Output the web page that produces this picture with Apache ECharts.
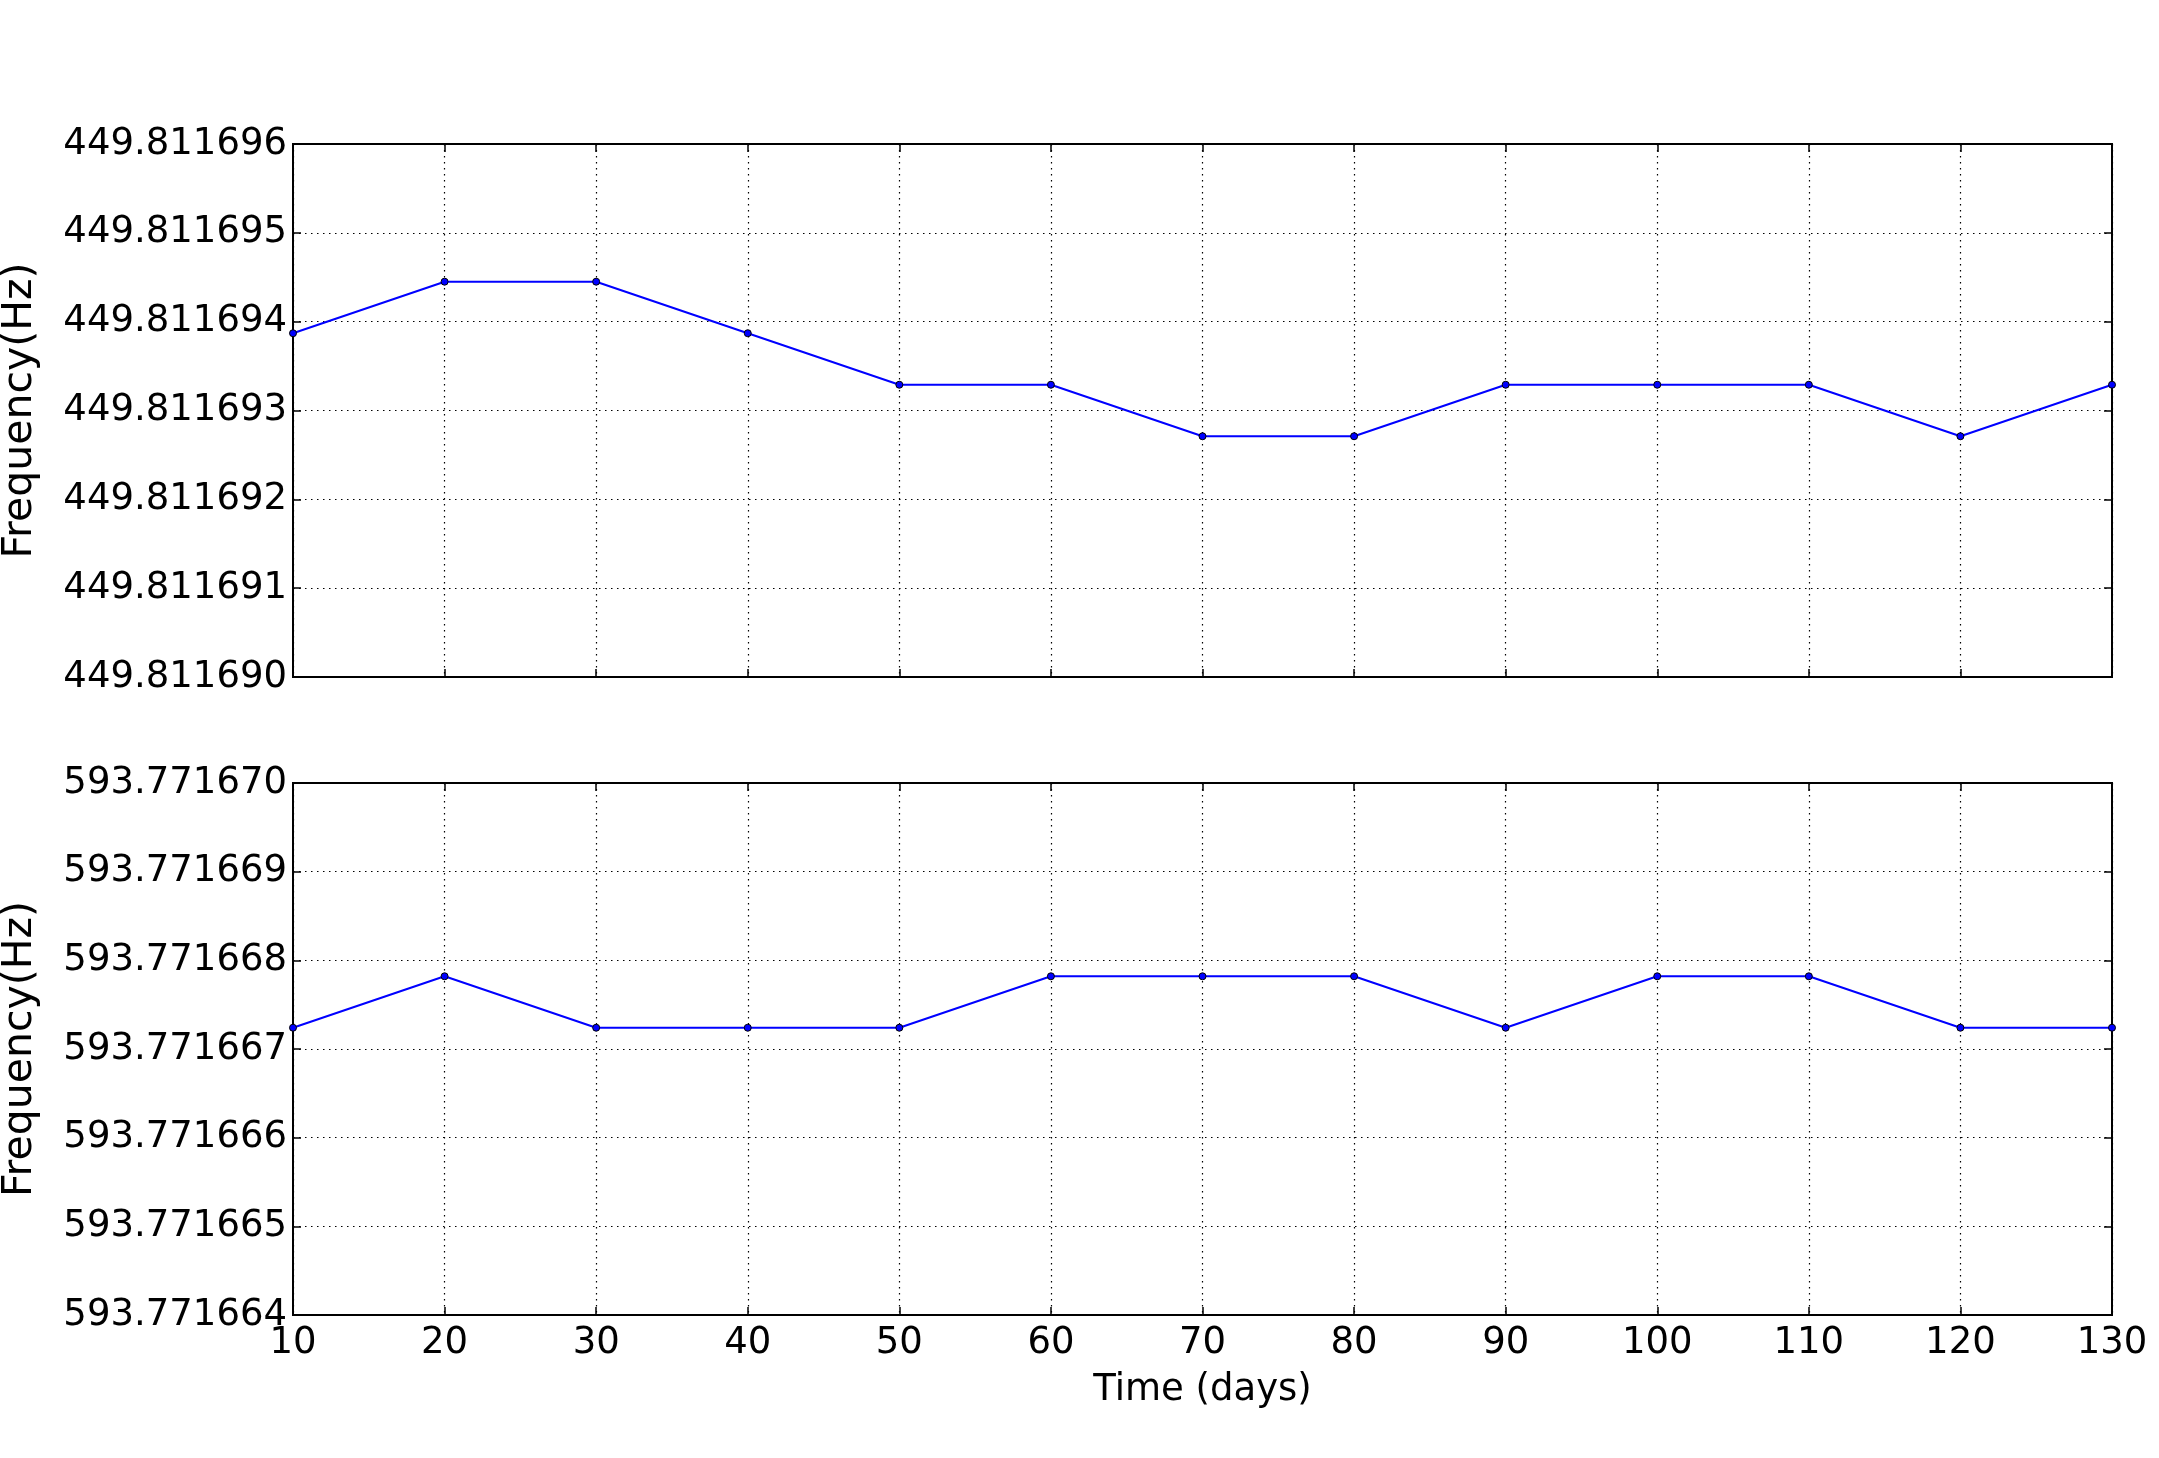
<!DOCTYPE html>
<html><head><meta charset="utf-8">
<script src="https://cdn.jsdelivr.net/npm/echarts@6/dist/echarts.min.js"></script>
<style>html,body{margin:0;padding:0;background:#fff}#c{width:2159px;height:1458px}</style>
</head><body><div id="c"></div>
<script>
const days = [10, 20, 30, 40, 50, 60, 70, 80, 90, 100, 110, 120, 130];
const freqTop = [449.81169387, 449.81169445, 449.81169445, 449.81169387, 449.81169329, 449.81169329, 449.81169271, 449.81169271, 449.81169329, 449.81169329, 449.81169329, 449.81169271, 449.81169329];
const freqBottom = [593.77166724, 593.77166782, 593.77166724, 593.77166724, 593.77166724, 593.77166782, 593.77166782, 593.77166782, 593.77166724, 593.77166782, 593.77166782, 593.77166724, 593.77166724];
const xTicks = {min: 10, max: 130, interval: 10};
const yTopTicks = {min: 449.811690, max: 449.811696, interval: 0.000001};
const yBottomTicks = {min: 593.771664, max: 593.771670, interval: 0.000001};

const FONT = 'DejaVu Sans';
const FS = 37;
const grid = [
  {left: 293, right: 47, top: 144, height: 533, show: true, borderColor: '#000', borderWidth: 2, containLabel: false, outerBoundsMode: 'none'},
  {left: 293, right: 47, top: 783, height: 532, show: true, borderColor: '#000', borderWidth: 2, containLabel: false, outerBoundsMode: 'none'}
];
const gridLine = {show: true, lineStyle: {color: '#000', width: 1.2, type: [1.5, 4.5]}};
const tickIn = {show: true, inside: true, length: 8, lineStyle: {color: '#000', width: 1.5}};
function xAx(gi, labels, pos, grid) {
  return {type: 'value', gridIndex: gi, position: pos, min: xTicks.min, max: xTicks.max, interval: xTicks.interval,
    axisLine: {show: false}, axisTick: tickIn, splitLine: grid ? gridLine : {show: false},
    axisLabel: labels ? {show: true, color: '#000', fontFamily: FONT, fontSize: FS, margin: 10} : {show: false}};
}
function yAx(gi, t, labels, pos, grid) {
  return {type: 'value', gridIndex: gi, position: pos, min: t.min, max: t.max, interval: t.interval,
    axisLine: {show: false}, axisTick: tickIn, splitLine: grid ? gridLine : {show: false},
    axisLabel: labels ? {show: true, color: '#000', fontFamily: FONT, fontSize: FS, margin: 6, formatter: v => v.toFixed(6)} : {show: false}};
}
const xAxes = [xAx(0, false, 'bottom', true), xAx(0, false, 'top', false), xAx(1, true, 'bottom', true), xAx(1, false, 'top', false)];
xAxes[2].name = 'Time (days)';
xAxes[2].nameLocation = 'middle';
xAxes[2].nameGap = 57;
xAxes[2].nameTextStyle = {color: '#000', fontFamily: FONT, fontSize: FS};
const yAxes = [yAx(0, yTopTicks, true, 'left', true), yAx(0, yTopTicks, false, 'right', false), yAx(1, yBottomTicks, true, 'left', true), yAx(1, yBottomTicks, false, 'right', false)];
[0, 2].forEach(i => {
  yAxes[i].name = 'Frequency(Hz)';
  yAxes[i].nameLocation = 'middle';
  yAxes[i].nameGap = 252;
  yAxes[i].nameTextStyle = {color: '#000', fontFamily: FONT, fontSize: 41};
});
function ser(xi, yi, vals) {
  return {type: 'line', xAxisIndex: xi, yAxisIndex: yi, data: days.map((d, i) => [d, vals[i]]),
    lineStyle: {color: '#0000ff', width: 2}, itemStyle: {color: '#0000ff', borderColor: '#000', borderWidth: 1},
    symbol: 'circle', symbolSize: 7, showSymbol: true, animation: false, clip: false};
}
const chart = echarts.init(document.getElementById('c'), null, {renderer: 'canvas'});
chart.setOption({
  backgroundColor: '#fff', animation: false,
  grid: grid, xAxis: xAxes, yAxis: yAxes,
  series: [ser(0, 0, freqTop), ser(2, 2, freqBottom)]
});
</script></body></html>
